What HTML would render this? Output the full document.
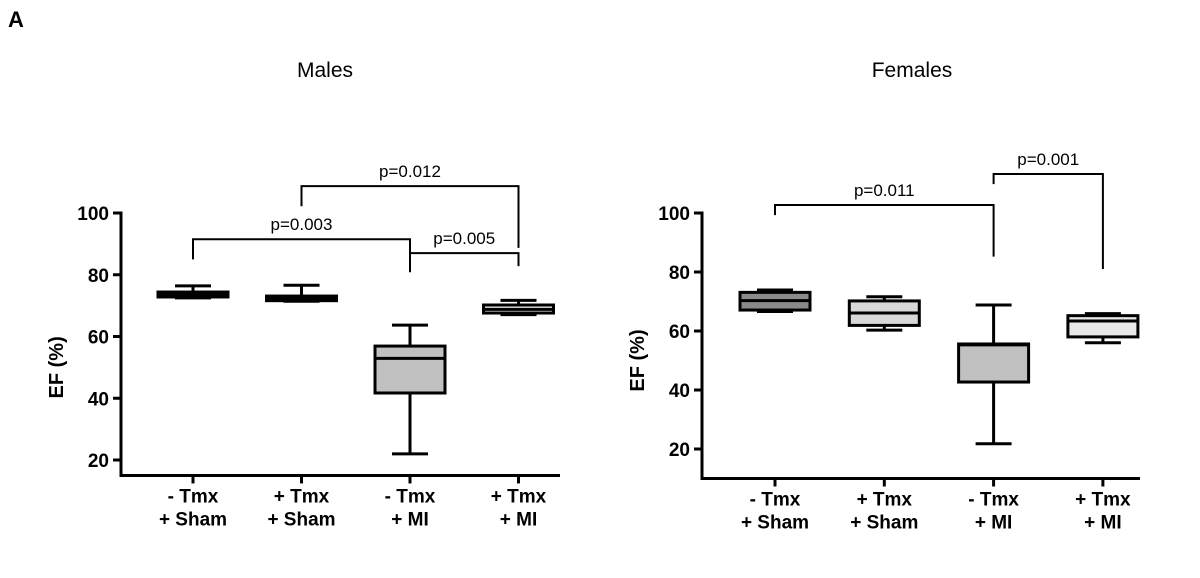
<!DOCTYPE html>
<html><head><meta charset="utf-8"><style>
html,body{margin:0;padding:0;background:#fff;}
svg{display:block;font-family:"Liberation Sans",Arial,sans-serif;}
</style></head><body>
<svg id="chart" width="1200" height="578" viewBox="0 0 1200 578" xmlns="http://www.w3.org/2000/svg">
<text x="8" y="27" font-size="22" font-weight="bold">A</text>
</svg>
<script>
const categories = ["- Tmx|+ Sham", "+ Tmx|+ Sham", "- Tmx|+ MI", "+ Tmx|+ MI"];
const yTicks = [20, 40, 60, 80, 100];
const boxFills = ["#8a8a8a", "#d8d8d8", "#c0c0c0", "#e8e8e8"];
// Males: [min, q1, median, q3, max]
const malesMin = [72.5, 71.4, 22, 67.1];
const malesQ1 = [72.8, 71.6, 41.7, 67.6];
const malesMedian = [73.7, 72.3, 52.9, 68.8];
const malesQ3 = [74.4, 73.1, 56.9, 70.2];
const malesMax = [76.4, 76.6, 63.7, 71.7];
// Females
const femalesMin = [66.6, 60.3, 21.8, 56];
const femalesQ1 = [67.1, 61.9, 42.7, 58];
const femalesMedian = [70.3, 66.1, 55.3, 63.4];
const femalesQ3 = [73.1, 70.2, 55.6, 65.2];
const femalesMax = [73.9, 71.6, 68.8, 65.9];
// brackets: [from, to, level value, leftDropValue, rightDropValue, label]
const malesBrackets = [
  [0, 2, 91.5, 85, 85, "p=0.003"],
  [1, 3, 108.7, 102.2, 88.7, "p=0.012"],
  [2, 3, 87, 80.8, 82.8, "p=0.005"]
];
const femalesBrackets = [
  [0, 2, 102.7, 99.3, 85.2, "p=0.011"],
  [2, 3, 113.2, 109.8, 81.0, "p=0.001"]
];

const svg = document.getElementById('chart');
const NS = 'http://www.w3.org/2000/svg';
function mk(tag, attrs, parent){
  const e = document.createElementNS(NS, tag);
  for (const k in attrs) e.setAttribute(k, attrs[k]);
  (parent||svg).appendChild(e);
  return e;
}

function panel(cfg){
  const g = mk('g', {});
  
  
  const y = v => cfg.y100 + (100 - v) * cfg.ppu;
  const x = i => cfg.x0 + i * cfg.step;
  const bottom = y(cfg.ymin);
  const t = mk('text', {x: cfg.titleX, y: 77, 'font-size': 21, 'text-anchor': 'middle'}, g);
  t.textContent = cfg.title;
  
  
  const ya = mk('line', {x1: cfg.ax, y1: y(100) - 1.5, x2: cfg.ax, y2: bottom + 1.5, stroke: '#000', 'stroke-width': 3}, g);
  
  
  const xa = mk('line', {x1: cfg.ax - 1.5, y1: bottom, x2: cfg.axEnd, y2: bottom, stroke: '#000', 'stroke-width': 3}, g);
  
  
  yTicks.forEach(v => {
    mk('line', {x1: cfg.ax - 8, y1: y(v), x2: cfg.ax, y2: y(v), stroke: '#000', 'stroke-width': 3}, g);
    const tl = mk('text', {x: cfg.ax - 12, y: y(v) + 7, 'font-size': 19, 'font-weight': 'bold', 'text-anchor': 'end'}, g);
    tl.textContent = v;
    
    
  });
  const yl = mk('text', {x: 0, y: 0, 'font-size': 20, 'font-weight': 'bold', 'text-anchor': 'middle', transform: `translate(${cfg.ax - 58},${y(50)}) rotate(-90)`}, g);
  yl.textContent = 'EF (%)';
  
  
  categories.forEach((c, i) => {
    mk('line', {x1: x(i), y1: bottom, x2: x(i), y2: bottom + 8, stroke: '#000', 'stroke-width': 3}, g);
    c.split('|').forEach((ln, j) => {
      const cl = mk('text', {x: x(i), y: bottom + 27 + j * 23, 'font-size': 19, 'font-weight': 'bold', 'text-anchor': 'middle'}, g);
      cl.textContent = ln;
      
      
    });
    const bg = mk('g', {}, g);
    
    
    const bw = 70, cw = 36;
    const st = {stroke: '#000', 'stroke-width': 3};
    mk('line', Object.assign({x1: x(i), y1: y(cfg.max[i]), x2: x(i), y2: y(cfg.q3[i])}, st), bg);
    mk('line', Object.assign({x1: x(i), y1: y(cfg.q1[i]), x2: x(i), y2: y(cfg.min[i])}, st), bg);
    mk('line', Object.assign({x1: x(i) - cw/2, y1: y(cfg.max[i]), x2: x(i) + cw/2, y2: y(cfg.max[i])}, st), bg);
    mk('line', Object.assign({x1: x(i) - cw/2, y1: y(cfg.min[i]), x2: x(i) + cw/2, y2: y(cfg.min[i])}, st), bg);
    mk('rect', Object.assign({x: x(i) - bw/2, y: y(cfg.q3[i]), width: bw, height: y(cfg.q1[i]) - y(cfg.q3[i]), fill: boxFills[i]}, st), bg);
    mk('line', Object.assign({x1: x(i) - bw/2, y1: y(cfg.med[i]), x2: x(i) + bw/2, y2: y(cfg.med[i])}, st), bg);
  });
  cfg.brackets.forEach(b => {
    const bg = mk('g', {}, g);
    
    
    const x1 = x(b[0]), x2 = x(b[1]), yy = y(b[2]);
    mk('polyline', {points: `${x1},${y(b[3])} ${x1},${yy} ${x2},${yy} ${x2},${y(b[4])}`, fill: 'none', stroke: '#000', 'stroke-width': 2}, bg);
    const pl = mk('text', {x: (x1 + x2) / 2, y: yy - 9, 'font-size': 17, 'text-anchor': 'middle'}, bg);
    pl.textContent = b[5];
    
    
  });
}

panel({name: 'males-chart', title: 'Males', titleX: 325, ax: 121, axEnd: 560, x0: 193, step: 108.5, y100: 213, ppu: 3.0875, ymin: 15,
  min: malesMin, q1: malesQ1, med: malesMedian, q3: malesQ3, max: malesMax, brackets: malesBrackets});
panel({name: 'females-chart', title: 'Females', titleX: 912, ax: 702, axEnd: 1140, x0: 775, step: 109.3, y100: 213, ppu: 2.95, ymin: 10,
  min: femalesMin, q1: femalesQ1, med: femalesMedian, q3: femalesQ3, max: femalesMax, brackets: femalesBrackets});
</script>
</body></html>
